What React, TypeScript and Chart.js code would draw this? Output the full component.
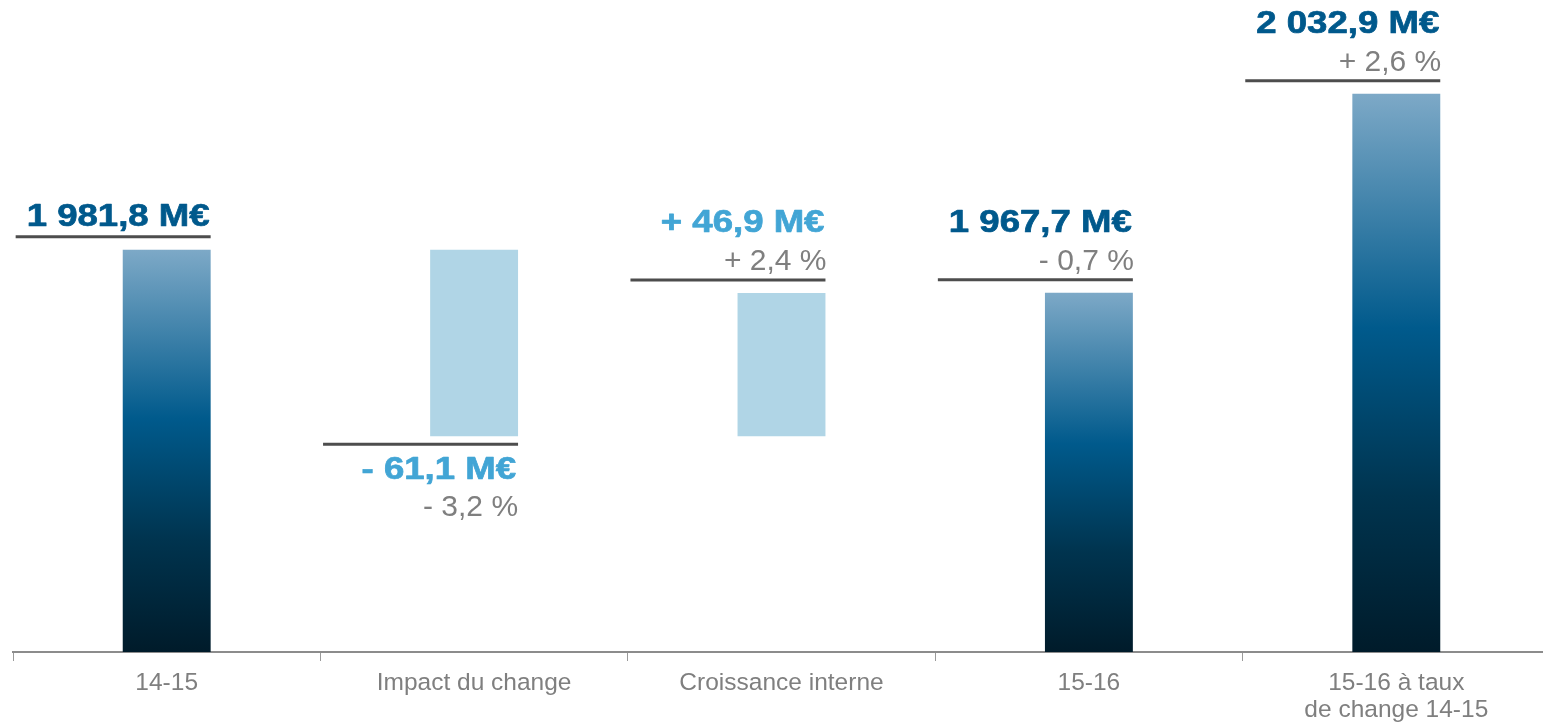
import React, { useEffect, useRef } from 'react';
import { Chart, registerables } from 'chart.js';

Chart.register(...registerables);

const categories: (string | string[])[] = [
  '14-15',
  'Impact du change',
  'Croissance interne',
  '15-16',
  ['15-16 à taux', 'de change 14-15'],
];
const barLow = [1850, 1920.7, 1920.7, 1850, 1850];
const barHigh = [1981.8, 1981.8, 1967.6, 1967.7, 2032.9];
const barKinds = ['total', 'delta', 'delta', 'total', 'total'];
const valueLabels = ['1 981,8 M€', '- 61,1 M€', '+ 46,9 M€', '1 967,7 M€', '2 032,9 M€'];
const percentLabels = ['', '- 3,2 %', '+ 2,4 %', '- 0,7 %', '+ 2,6 %'];
const axisMin = 1850;
const axisMax = 2060;

const DARK_BLUE = '#00598C';
const LIGHT_BLUE = '#42A5D5';
const GREY = '#7F7F7F';
const LINE = '#4D4D4D';

function drawBold(ctx: CanvasRenderingContext2D, text: string, xRight: number, y: number, color: string) {
  ctx.save();
  ctx.translate(xRight, y);
  ctx.scale(1.18, 1);
  ctx.font = 'bold 31px "Liberation Sans", Arial, sans-serif';
  ctx.textAlign = 'right';
  ctx.textBaseline = 'alphabetic';
  ctx.fillStyle = color;
  ctx.strokeStyle = color;
  ctx.lineWidth = 0.7;
  ctx.lineJoin = 'round';
  ctx.fillText(text, 0, 0);
  ctx.strokeText(text, 0, 0);
  ctx.restore();
}

function drawGrey(ctx: CanvasRenderingContext2D, text: string, xRight: number, y: number) {
  ctx.save();
  ctx.font = '30px "Liberation Sans", Arial, sans-serif';
  ctx.textAlign = 'right';
  ctx.textBaseline = 'alphabetic';
  ctx.fillStyle = GREY;
  ctx.fillText(text, xRight, y);
  ctx.restore();
}

const labelPlugin = {
  id: 'waterfallLabels',
  afterDatasetsDraw(chart: any) {
    const ctx = chart.ctx;
    const meta = chart.getDatasetMeta(0);
    meta.data.forEach((bar: any, i: number) => {
      const right = bar.x + bar.width / 2;
      const top = Math.min(bar.y, bar.base);
      const bottom = Math.max(bar.y, bar.base);
      const below = barKinds[i] === 'delta' && valueLabels[i].trim().startsWith('-');
      const lineY = below ? bottom + 8 : top - 13;
      ctx.save();
      ctx.strokeStyle = LINE;
      ctx.lineWidth = 3;
      ctx.beginPath();
      ctx.moveTo(right - 195, lineY);
      ctx.lineTo(right, lineY);
      ctx.stroke();
      ctx.restore();

      const valueColor = barKinds[i] === 'delta' ? LIGHT_BLUE : DARK_BLUE;
      if (below) {
        drawBold(ctx, valueLabels[i], right - 2, lineY + 35, valueColor);
        if (percentLabels[i]) drawGrey(ctx, percentLabels[i], right, lineY + 72);
      } else if (percentLabels[i]) {
        drawGrey(ctx, percentLabels[i], right + 1, lineY - 10);
        drawBold(ctx, valueLabels[i], right - 1, lineY - 48, valueColor);
      } else {
        drawBold(ctx, valueLabels[i], right - 1, lineY - 11, valueColor);
      }
    });
  },
};

export default function App() {
  const canvasRef = useRef<HTMLCanvasElement | null>(null);

  useEffect(() => {
    if (!canvasRef.current) return;
    const chart = new Chart(canvasRef.current, {
      type: 'bar',
      data: {
        labels: categories,
        datasets: [
          {
            data: barLow.map((lo, i) => [lo, barHigh[i]]) as any,
            backgroundColor: (c: any) => {
              const i = c.dataIndex;
              if (barKinds[i] === 'delta') return '#B0D5E6';
              const ch = c.chart;
              const ys = ch.scales && ch.scales.y;
              if (!ys || !ch.chartArea) return '#005A8C';
              const t = ys.getPixelForValue(barHigh[i]);
              const b = ys.getPixelForValue(barLow[i]);
              if (!isFinite(t) || !isFinite(b)) return '#005A8C';
              const g = ch.ctx.createLinearGradient(0, t, 0, b);
              g.addColorStop(0, '#7DA9C7');
              g.addColorStop(0.42, '#005A8C');
              g.addColorStop(0.72, '#00344F');
              g.addColorStop(1, '#001B2A');
              return g;
            },
            borderWidth: 0,
            barPercentage: 0.286,
            categoryPercentage: 1,
          },
        ],
      },
      options: {
        animation: false,
        responsive: true,
        maintainAspectRatio: false,
        layout: { padding: { top: 11, left: 13, right: 10, bottom: 0 } },
        plugins: {
          legend: { display: false },
          tooltip: { enabled: false },
        },
        scales: {
          x: {
            offset: true,
            grid: {
              display: true,
              drawOnChartArea: false,
              drawTicks: true,
              tickLength: 9,
              color: '#9A9A9A',
              lineWidth: 1,
              offset: true,
            },
            border: { display: true, color: '#8C8C8C', width: 2 },
            ticks: {
              color: GREY,
              padding: 9,
              maxRotation: 0,
              autoSkip: false,
              font: { family: '"Liberation Sans", Arial, sans-serif', size: 24.5, lineHeight: 1.1 },
            },
            afterFit: (scale: any) => {
              scale.height = 71;
            },
          },
          y: {
            display: false,
            min: axisMin,
            max: axisMax,
          },
        },
      },
      plugins: [labelPlugin],
    });
    return () => chart.destroy();
  }, []);

  return (
    <div style={{ position: 'absolute', left: 0, top: 0, width: 1543, height: 723, overflow: 'hidden', background: '#fff' }}>
      <div style={{ position: 'relative', width: 1560, height: 723 }}>
        <canvas ref={canvasRef} />
      </div>
    </div>
  );
}
